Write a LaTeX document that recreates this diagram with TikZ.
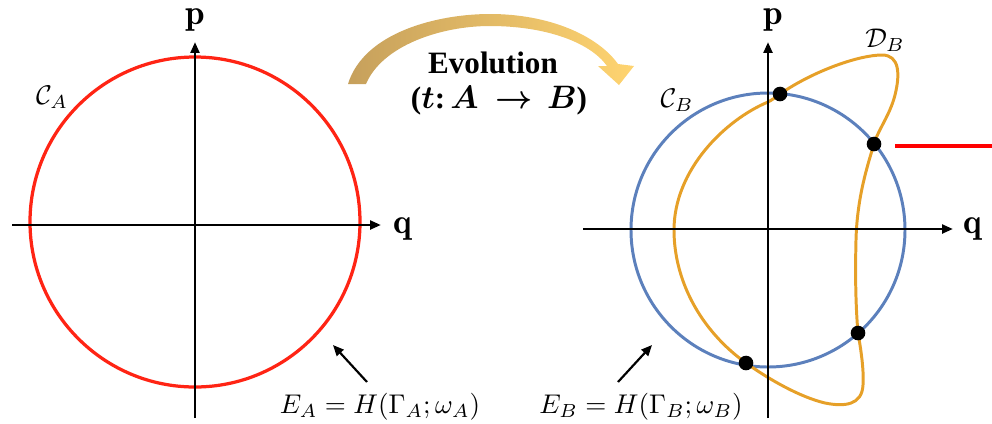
\documentclass[tikz,border=0pt]{standalone}
\usepackage{fontspec}
\usepackage{bm}
\usetikzlibrary{arrows.meta}
\newfontfamily\evofont{Liberation Serif}
\definecolor{circA}{RGB}{255,36,20}
\definecolor{circB}{RGB}{92,128,188}
\definecolor{curvD}{RGB}{230,160,40}
\definecolor{evoL}{RGB}{198,160,92}
\definecolor{evoR}{RGB}{255,212,112}

\begin{document}
\begin{tikzpicture}[x=0.013cm, y=-0.013cm,
    axis/.style={line width=1.1pt, -{Triangle[length=4pt,width=3.2pt]}},
    pointer/.style={line width=0.8pt, -{Triangle[length=4pt,width=3.4pt]}},
    axlabel/.style={inner sep=1pt, font=\fontsize{13}{15}\selectfont},
    evotext/.style={font=\fontsize{11.5}{13}\selectfont\evofont\bfseries},
    dot/.style={circle, fill=black, inner sep=0pt, minimum size=0.19cm}]
    \useasboundingbox (0,0) rectangle (992,423);

    % left panel: state A
    \draw[circA, line width=1.2pt] (195,222) circle[radius=165];
    \coordinate (qA0) at (12,225);
    \coordinate (qA1) at (381,225);
    \coordinate (pA0) at (195,418);
    \coordinate (pA1) at (195,42);
    \draw[axis] (qA0) -- (qA1);
    \draw[axis] (pA0) -- (pA1);
    \node[axlabel] (pA) at (195,20) {$\mathbf{p}$};
    \node[axlabel] (qA) at (403,229) {$\mathbf{q}$};
    \node (CA) at (52,97) {$\mathcal{C}_A$};

    % right panel: state B
    \draw[circB, line width=1.1pt] (768,230) circle[radius=137];
    \draw[curvD, line width=1.1pt] (780,94)
        .. controls (815,70) and (860,55) .. (882,55)
        .. controls (900,55) and (900,75) .. (895,95)
        .. controls (890,115) and (878,130) .. (874,144)
        .. controls (866,170) and (857,200) .. (856,240)
        .. controls (855,280) and (856,310) .. (858,333)
        .. controls (861,350) and (864,370) .. (863,385)
        .. controls (862,405) and (845,407) .. (825,403)
        .. controls (800,397) and (770,380) .. (746,363)
        .. controls (700,330) and (674,280) .. (674,230)
        .. controls (674,170) and (725,120) .. (768,102)
        .. controls (772,100) and (776,97) .. (780,94) -- cycle;
    \coordinate (qB0) at (583,229);
    \coordinate (qB1) at (953,229);
    \coordinate (pB0) at (768,418);
    \coordinate (pB1) at (768,42);
    \draw[axis] (qB0) -- (qB1);
    \draw[axis] (pB0) -- (pB1);
    \node[axlabel] (pB) at (773,20) {$\mathbf{p}$};
    \node[axlabel] (qB) at (973,229) {$\mathbf{q}$};
    \node (CB) at (677,100) {$\mathcal{C}_B$};
    \node (DB) at (885,40) {$\mathcal{D}_B$};
    \node[dot] (d1) at (780,94) {};
    \node[dot] (d2) at (874,144) {};
    \node[dot] (d3) at (858,333) {};
    \node[dot] (d4) at (746,363) {};
    \coordinate (mk0) at (895,146);
    \coordinate (mk1) at (992,146);
    \draw[red, line width=1.5pt] (mk0) -- (mk1);

    % evolution arrow
    \shade[left color=evoL, right color=evoR]
        (348,84) .. controls (364,32) and (438,14) .. (490,14)
        .. controls (550,14) and (598,36) .. (618,64)
        -- (634,66) -- (619,85) -- (598,66) -- (607,66)
        .. controls (590,42) and (545,26) .. (490,26)
        .. controls (440,26) and (382,46) .. (366,84) -- cycle;
    \node[evotext] (evo) at (493,63) {Evolution};
    \node[evotext] (evo2) at (499,101) {($\bm{t}$:\,$\bm{A}\ \bm{\to}\,\bm{B}$)};

    % energy labels
    \node (EA) at (380,407) {$E_A = H(\Gamma_A;\omega_A)$};
    \node (EB) at (641,407) {$E_B = H(\Gamma_B;\omega_B)$};
    \coordinate (EAt) at (367,382);
    \coordinate (EAh) at (333,345);
    \coordinate (EBt) at (618,382);
    \coordinate (EBh) at (652,345);
    \draw[pointer] (EAt) -- (EAh);
    \draw[pointer] (EBt) -- (EBh);

    \end{tikzpicture}
\end{document}
